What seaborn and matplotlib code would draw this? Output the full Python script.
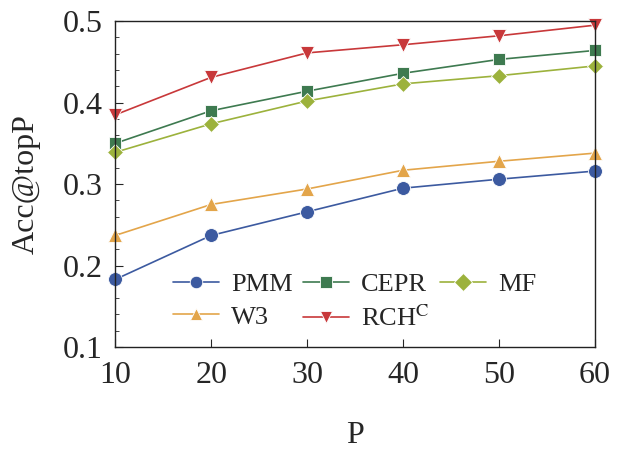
import numpy as np
import pandas as pd
from matplotlib import pyplot as plt
from matplotlib.ticker import MultipleLocator
import seaborn as sns

P = [10, 20, 30, 40, 50, 60]
methods = ['PMM', 'W3', 'CEPR', 'RCH$^{\\mathrm{C}}$', 'MF']
pmm = [0.183, 0.237, 0.266, 0.295, 0.306, 0.316]
w3 = [0.237, 0.275, 0.294, 0.317, 0.328, 0.338]
cepr = [0.350, 0.390, 0.414, 0.436, 0.453, 0.464]
rch = [0.385, 0.431, 0.461, 0.471, 0.482, 0.495]
mf = [0.339, 0.374, 0.402, 0.423, 0.433, 0.445]

colors = ['#3C5AA0', '#E3A54A', '#3E7A50', '#C8383A', '#9CB23C']
markers = ['o', '^', 's', 'v', 'D']
sizes = [10, 10, 8.5, 10, 8.5]

df = pd.DataFrame({
    'P': P * 5,
    'acc': pmm + w3 + cepr + rch + mf,
    'method': sum([[m] * len(P) for m in methods], []),
})

sns.set_style('white')
plt.rcParams['font.family'] = ['Liberation Serif', 'DejaVu Serif']
plt.rcParams['mathtext.fontset'] = 'stix'

fig, ax = plt.subplots(figsize=(6.23, 4.49), dpi=100)
sns.lineplot(data=df, x='P', y='acc', hue='method', style='method',
             hue_order=methods, style_order=methods,
             palette=dict(zip(methods, colors)),
             markers=dict(zip(methods, markers)), dashes=False,
             lw=1.2, ms=9, markeredgewidth=0.6, ax=ax, clip_on=False)
for line, s in zip(ax.lines, sizes):
    line.set_markersize(s)

ax.set_xlim(10, 60)
ax.set_ylim(0.1, 0.5)
ax.set_xticks([10, 20, 30, 40, 50, 60])
ax.set_yticks([0.1, 0.2, 0.3, 0.4, 0.5])
ax.yaxis.set_minor_locator(MultipleLocator(0.02))
ax.tick_params(axis='both', which='both', direction='in', labelsize=23,
               left=True, bottom=True, right=False, top=False)
ax.tick_params(axis='y', which='major', length=6, width=0.8, pad=9)
ax.tick_params(axis='y', which='minor', length=3, width=0.6)
ax.tick_params(axis='x', which='major', length=6, width=0.8, pad=10)
for sp in ax.spines.values():
    sp.set_color('#222222')
    sp.set_linewidth(1.0)

ax.set_xlabel('P', fontsize=23, labelpad=22)
ax.set_ylabel('Acc@topP', fontsize=23, labelpad=16)

leg = ax.legend(ncol=3, loc='lower left', bbox_to_anchor=(0.12, 0.05),
                frameon=False, fontsize=19, handlelength=1.75, borderpad=0,
                borderaxespad=0, columnspacing=0.4, handletextpad=0.45,
                labelspacing=0.35)

plt.subplots_adjust(left=0.185, right=0.955, top=0.953, bottom=0.227)
plt.savefig('out.png', dpi=100)
